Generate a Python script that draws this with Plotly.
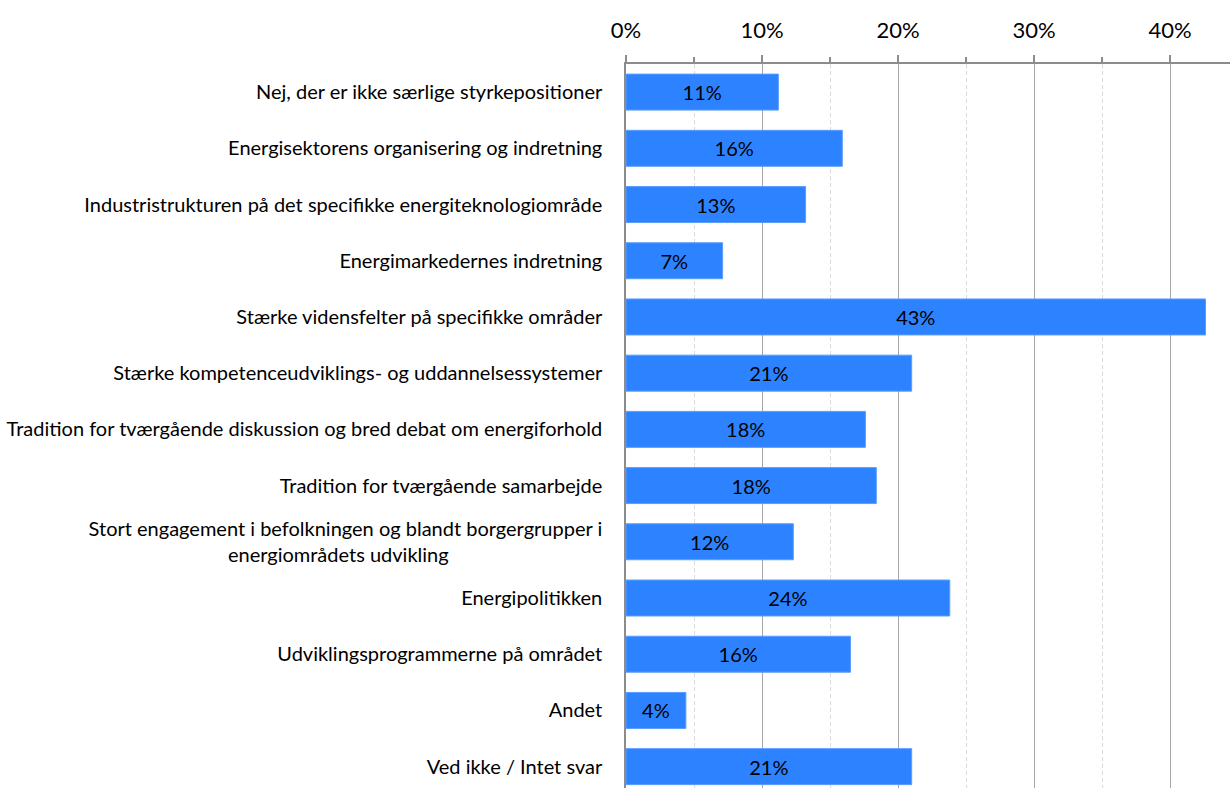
import plotly.graph_objects as go

categories = [
    "Nej, der er ikke særlige styrkepositioner",
    "Energisektorens organisering og indretning",
    "Industristrukturen på det specifikke energiteknologiområde",
    "Energimarkedernes indretning",
    "Stærke vidensfelter på specifikke områder",
    "Stærke kompetenceudviklings- og uddannelsessystemer",
    "Tradition for tværgående diskussion og bred debat om energiforhold",
    "Tradition for tværgående samarbejde",
    "Stort engagement i befolkningen og blandt borgergrupper i<br>energiområdets udvikling" + "&nbsp;" * 30,
    "Energipolitikken",
    "Udviklingsprogrammerne på området",
    "Andet",
    "Ved ikke / Intet svar",
]
values = [11.2, 15.9, 13.2, 7.1, 42.6, 21.0, 17.6, 18.4, 12.3, 23.8, 16.5, 4.4, 21.0]
labels = ["11%", "16%", "13%", "7%", "43%", "21%", "18%", "18%", "12%", "24%", "16%", "4%", "21%"]

font = "Lato, 'Open Sans', sans-serif"

fig = go.Figure(go.Bar(
    x=values,
    y=categories,
    orientation="h",
    width=0.64,
    marker=dict(color="#2d83ff", line=dict(color="#5a9cff", width=1)),
    text=labels,
    textposition="inside",
    insidetextanchor="middle",
    textfont=dict(color="black", size=20, family=font),
))

fig.update_layout(
    width=1230, height=788,
    margin=dict(l=626, r=0, t=64, b=0),
    plot_bgcolor="white", paper_bgcolor="white",
    showlegend=False,
    font=dict(family=font, color="black"),
    xaxis=dict(
        side="top", range=[0, 44.4], automargin=False,
        tickvals=[0, 10, 20, 30, 40], ticktext=["0%", "10%", "20%", "30%", "40%"],
        tickfont=dict(size=22), ticklabelstandoff=8,
        ticks="outside", ticklen=7, tickcolor="#8c8c8c", tickwidth=1.5,
        showline=True, linecolor="#8c8c8c", linewidth=1.5,
        showgrid=True, gridcolor="#a6a6a6", gridwidth=1,
        zeroline=False,
        minor=dict(tickvals=[5, 15, 25, 35], ticks="outside", ticklen=5, tickcolor="#8c8c8c",
                   showgrid=True, gridcolor="#dadada", griddash="4px,3px", gridwidth=1),
    ),
    yaxis=dict(
        type="category", automargin=False,
        range=[12.38, -0.5],
        tickfont=dict(size=20),
        ticks="", ticklabelstandoff=18,
        showline=True, linecolor="#8c8c8c", linewidth=1.5,
        showgrid=False,
    ),
)

# page body has an 8px default margin; drop it so the chart sits at 0,0
fig.write_html("out.html", config={"displayModeBar": False},
               post_script="document.body.style.margin = '0';")
